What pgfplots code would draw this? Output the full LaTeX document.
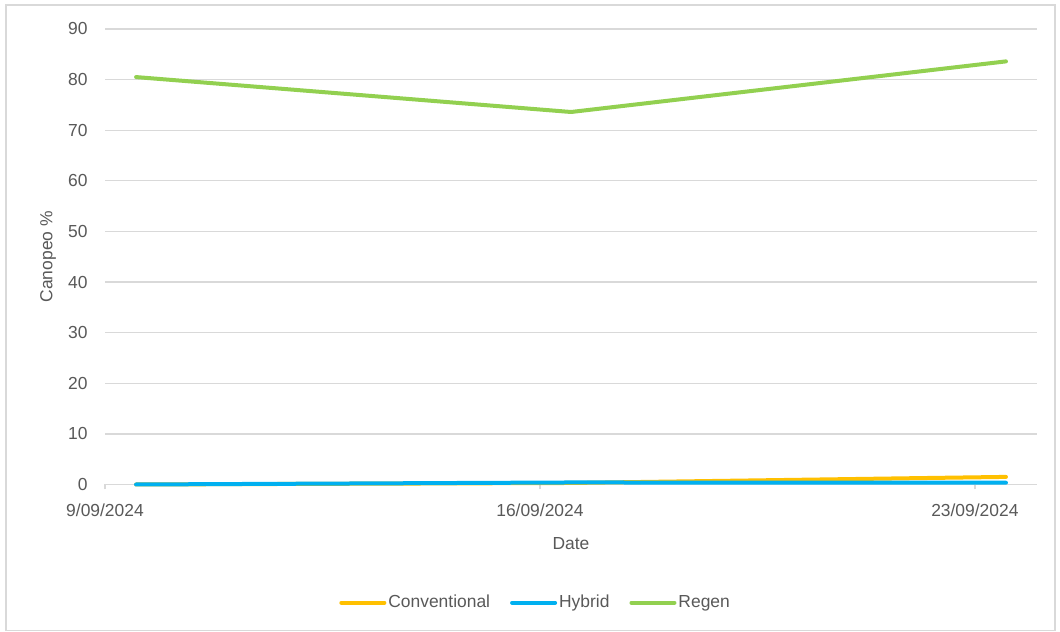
\documentclass[border=0pt]{standalone}
\usepackage{pgfplots}
\pgfplotsset{compat=1.18}
\usepackage{fontspec}
\setmainfont{Liberation Sans}

\definecolor{conv}{HTML}{FFC000}
\definecolor{hyb}{HTML}{00B0F0}
\definecolor{regen}{HTML}{92D050}
\definecolor{gridgray}{HTML}{D9D9D9}
\definecolor{txtgray}{HTML}{595959}

\begin{document}
\begin{tikzpicture}[x=1bp,y=1bp]
\useasboundingbox (0,0) rectangle (1060,632);
\fill[white] (0,0) rectangle (1060,632);
\draw[gridgray, line width=1.5bp] (6,1.5) rectangle (1055,627);
\begin{axis}[
  at={(105bp,147.5bp)}, anchor=south west,
  scale only axis, width=932bp, height=455.5bp,
  xmin=9, xmax=24, ymin=0, ymax=90,
  xtick={9,16,23},
  xticklabels={9/09/2024,16/09/2024,23/09/2024},
  ytick={0,10,...,90},
  axis y line*=left, axis x line*=bottom,
  y axis line style={draw=none},
  x axis line style={gridgray, line width=1.3bp},
  ymajorgrids, grid style={gridgray, line width=1.3bp},
  major tick length=5bp,
  xtick style={gridgray, line width=1.3bp},
  ytick style={draw=none},
  xtick align=outside,
  tick label style={font=\fontsize{17.5}{20}\selectfont, text=txtgray},
  yticklabel style={xshift=-14bp},
  xticklabel style={yshift=-11bp},
  /pgf/number format/assume math mode=true,
  xlabel={Date}, ylabel={Canopeo \%},
  label style={font=\fontsize{17.5}{20}\selectfont, text=txtgray},
  xlabel style={at={(axis description cs:0.5,-0.1287)}, anchor=center},
  ylabel style={at={(axis description cs:-0.0611,0.5)}, anchor=center},
  clip=false,
  legend columns=3,
  legend style={draw=none, fill=none, at={(axis description cs:0.462,-0.2595)}, anchor=center,
    font=\fontsize{17.5}{20}\selectfont, text=txtgray,
    nodes={text height=13bp, text depth=4bp},
    /tikz/every even column/.append style={column sep=18bp},
    inner sep=0pt},
  legend image code/.code={\draw[#1, line width=4bp, line cap=round] (0bp,0bp) -- (43bp,0bp);},
  every axis plot/.append style={line width=4bp, line cap=round, line join=round, mark=none},
]
\addplot[conv] coordinates {(9.5,0) (16.5,0.3) (23.5,1.5)};
\addlegendentry{Conventional}
\addplot[hyb] coordinates {(9.5,0) (16.5,0.4) (23.5,0.35)};
\addlegendentry{Hybrid}
\addplot[regen] coordinates {(9.5,80.5) (16.5,73.6) (23.5,83.6)};
\addlegendentry{Regen}
\end{axis}
\end{tikzpicture}
\end{document}
